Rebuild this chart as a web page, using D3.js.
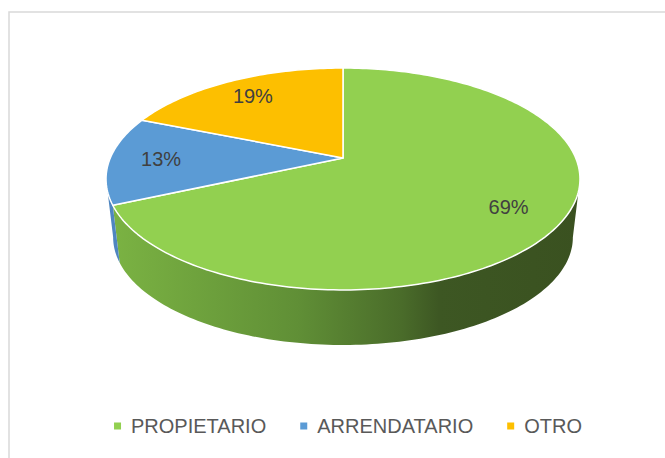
<!DOCTYPE html>
<meta charset="utf-8">
<style>
body { margin: 0; background: #fff; }
text { font-family: "Liberation Sans", Arial, sans-serif; }
</style>
<svg width="665" height="458"></svg>
<script src="https://d3js.org/d3.v7.min.js"></script>
<script>

var categories = ["PROPIETARIO", "ARRENDATARIO", "OTRO"];
var values = [69, 13, 19];
var labels = ["69%", "13%", "19%"];
var colors = ["#92d050", "#5b9bd5", "#fdbf00"];
var sideColors = ["url(#sideGreen)", "#4f86c0", "#c99a00"];

var svg = d3.select("svg");

// chart frame (runs off the right and bottom like the original)
svg.append("rect")
    .attr("x", 9).attr("y", 12)
    .attr("width", 700).attr("height", 500)
    .attr("fill", "none")
    .attr("stroke", "#d9d9d9")
    .attr("stroke-width", 1.5);

// simple perspective for the tilted disc
var cx = 343, cy = 158, A = 232.7, B = 107, k = -0.189, depth = 59, shrink = 0.97;

function proj(t, r, bottom) {
  var u = r * Math.sin(t), v = -r * Math.cos(t), d = 1 + k * v;
  var s = bottom ? shrink : 1;
  return [cx + s * A * u / d, cy + (bottom ? depth : 0) + s * B * v / d];
}

function arcPts(a0, a1, r, bottom) {
  var n = Math.max(2, Math.ceil(Math.abs(a1 - a0) / 0.02));
  return d3.range(n + 1).map(function(i) { return proj(a0 + (a1 - a0) * i / n, r, bottom); });
}

var pie = d3.pie().sort(null);
var arcs = pie(values);
var line = d3.line();

var defs = svg.append("defs");
var grad = defs.append("linearGradient")
    .attr("id", "sideGreen")
    .attr("gradientUnits", "userSpaceOnUse")
    .attr("x1", 110).attr("x2", 580).attr("y1", 0).attr("y2", 0);
[[0, "#7bb343"], [0.4, "#608f36"], [0.62, "#4a6c2a"], [0.7, "#3d5723"], [1, "#3a5120"]].forEach(function(s) {
  grad.append("stop").attr("offset", s[0]).attr("stop-color", s[1]);
});

// silhouette angles of the side wall
var tR = Math.acos(k), tL = 2 * Math.PI - tR;

svg.append("g").selectAll("path")
    .data(arcs)
    .enter().append("path")
    .attr("d", function(d) {
      var lo = Math.max(d.startAngle, tR), hi = Math.min(d.endAngle, tL);
      if (lo >= hi) return null;
      return line(arcPts(lo, hi, 1, false).concat(arcPts(hi, lo, 1, true))) + "Z";
    })
    .attr("fill", function(d, i) { return sideColors[i]; });

svg.append("g").selectAll("path")
    .data(arcs)
    .enter().append("path")
    .attr("d", function(d) {
      return line([proj(0, 0, false)].concat(arcPts(d.startAngle, d.endAngle, 1, false))) + "Z";
    })
    .attr("fill", function(d, i) { return colors[i]; })
    .attr("stroke", "#fff")
    .attr("stroke-width", 1.5)
    .attr("stroke-linejoin", "round");

svg.append("g").selectAll("text")
    .data(arcs)
    .enter().append("text")
    .attr("x", function(d) { return proj((d.startAngle + d.endAngle) / 2, 0.78, false)[0]; })
    .attr("y", function(d) { return proj((d.startAngle + d.endAngle) / 2, 0.78, false)[1]; })
    .attr("dy", "0.35em")
    .attr("text-anchor", "middle")
    .attr("font-size", 20)
    .attr("fill", "#404040")
    .text(function(d, i) { return labels[i]; });

// legend
var legend = svg.append("g").attr("transform", "translate(0,426)");
var xPos = 0;
categories.forEach(function(c, i) {
  var g = legend.append("g").attr("transform", "translate(" + xPos + ",0)");
  g.append("rect").attr("x", 0).attr("y", -3.5).attr("width", 7).attr("height", 7).attr("fill", colors[i]);
  var t = g.append("text")
      .attr("x", 17).attr("dy", "0.35em")
      .attr("font-size", 20)
      .attr("fill", "#595959")
      .text(c);
  xPos += 17 + t.node().getComputedTextLength() + 34;
});
var legendW = xPos - 34;
legend.attr("transform", "translate(" + (348 - legendW / 2) + ",426)");

</script>
